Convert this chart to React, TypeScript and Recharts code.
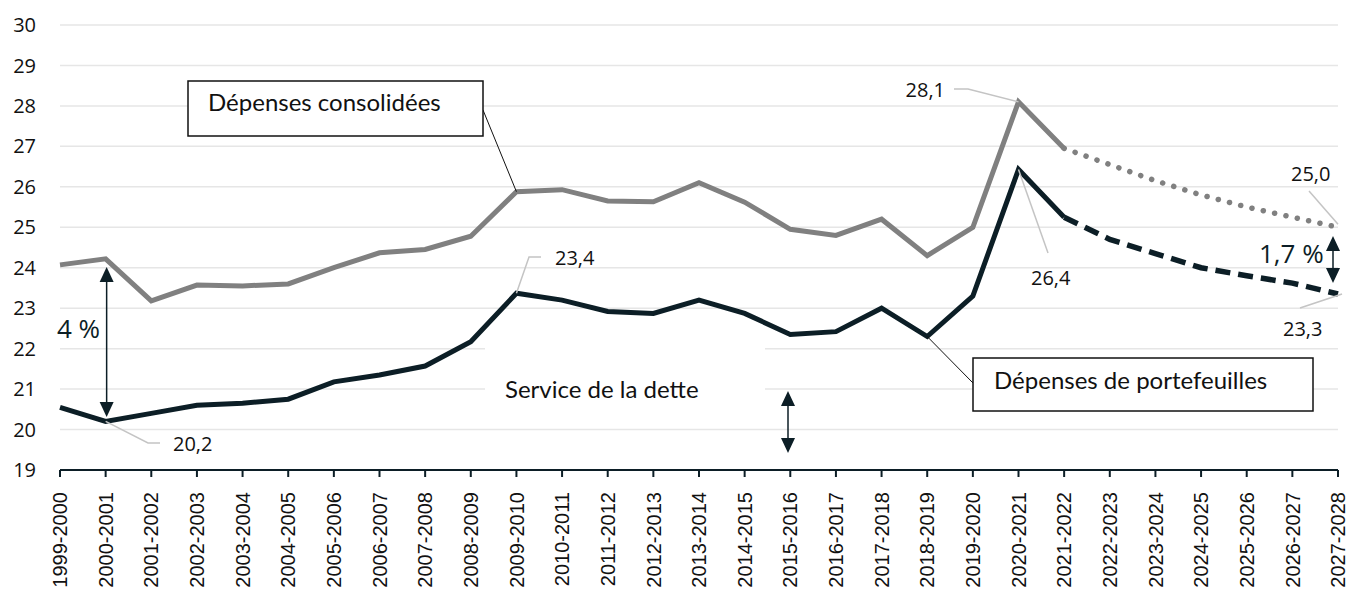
import React from 'react';
import { LineChart, Line, XAxis, YAxis } from 'recharts';

const categories = [
  '1999-2000', '2000-2001', '2001-2002', '2002-2003', '2003-2004', '2004-2005',
  '2005-2006', '2006-2007', '2007-2008', '2008-2009', '2009-2010', '2010-2011',
  '2011-2012', '2012-2013', '2013-2014', '2014-2015', '2015-2016', '2016-2017',
  '2017-2018', '2018-2019', '2019-2020', '2020-2021', '2021-2022', '2022-2023',
  '2023-2024', '2024-2025', '2025-2026', '2026-2027', '2027-2028',
];

const consolidatedActual: (number | null)[] = [
  24.07, 24.22, 23.18, 23.57, 23.55, 23.6, 24.0, 24.37, 24.45, 24.78, 25.88, 25.93,
  25.65, 25.63, 26.1, 25.62, 24.95, 24.8, 25.2, 24.3, 25.0, 28.1, 26.95,
  null, null, null, null, null, null,
];
const consolidatedProjected: (number | null)[] = [
  null, null, null, null, null, null, null, null, null, null, null, null,
  null, null, null, null, null, null, null, null, null, null,
  26.95, 26.55, 26.15, 25.8, 25.5, 25.25, 25.0,
];
const portfolioActual: (number | null)[] = [
  20.55, 20.2, 20.4, 20.6, 20.65, 20.75, 21.18, 21.35, 21.57, 22.17, 23.37, 23.2,
  22.92, 22.87, 23.2, 22.87, 22.35, 22.42, 23.0, 22.3, 23.3, 26.43, 25.25,
  null, null, null, null, null, null,
];
const portfolioProjected: (number | null)[] = [
  null, null, null, null, null, null, null, null, null, null, null, null,
  null, null, null, null, null, null, null, null, null, null,
  25.25, 24.7, 24.35, 24.0, 23.8, 23.62, 23.35,
];
const yTicks = [19, 20, 21, 22, 23, 24, 25, 26, 27, 28, 29, 30];

const data = categories.map((c, i) => ({
  cat: c,
  consA: consolidatedActual[i],
  consP: consolidatedProjected[i],
  portA: portfolioActual[i],
  portP: portfolioProjected[i],
}));

const W = 1346;
const H = 589;
const PLOT_LEFT = 60;
const PLOT_RIGHT = 1338;
const PLOT_TOP = 25;
const PLOT_BOTTOM = 470;
const Y_MIN = 19;
const Y_MAX = 30;

const xPx = (i: number) => PLOT_LEFT + (i * (PLOT_RIGHT - PLOT_LEFT)) / (categories.length - 1);
const yPx = (v: number) => PLOT_TOP + ((Y_MAX - v) / (Y_MAX - Y_MIN)) * (PLOT_BOTTOM - PLOT_TOP);

const DARK = '#0c1e26';
const GREY = '#808080';
const LEADER = '#c4c4c4';
const GRID = '#e6e6e6';
const TEXT_FONT = 'Lato, "Open Sans", sans-serif';
const NUM_FONT = '"Open Sans", Lato, sans-serif';

// blank patch in the grid behind "Service de la dette"
const PATCH_X1 = 485;
const PATCH_X2 = 765;
const PATCH_Y1 = 322;
const PATCH_Y2 = 420;

const XTick = (props: any) => {
  const { x, y, payload } = props;
  return (
    <text
      transform={`translate(${x},${y + 13}) rotate(-90)`}
      textAnchor="end"
      dy="0.36em"
      fontSize={20}
      fontFamily='"Liberation Sans", Arial, sans-serif'
      fill="#111"
    >
      {payload.value}
    </text>
  );
};

const Arrow = ({ x, y1, y2 }: { x: number; y1: number; y2: number }) => {
  const hl = 15;
  const hw = 7;
  return (
    <g>
      <line x1={x} y1={y1 + hl - 2} x2={x} y2={y2 - hl + 2} stroke={DARK} strokeWidth={1.5} />
      <polygon points={`${x},${y1} ${x - hw},${y1 + hl} ${x + hw},${y1 + hl}`} fill={DARK} />
      <polygon points={`${x},${y2} ${x - hw},${y2 - hl} ${x + hw},${y2 - hl}`} fill={DARK} />
    </g>
  );
};

const Underlay = () => (
  <svg width={W} height={H} style={{ position: 'absolute', left: 0, top: 0 }}>
    <rect x={0} y={0} width={W} height={H} fill="#fff" />
    {yTicks.filter((t) => t > Y_MIN).map((t) => {
      const y = yPx(t);
      if (y > PATCH_Y1 && y < PATCH_Y2) {
        return (
          <g key={t}>
            <line x1={PLOT_LEFT} x2={PATCH_X1} y1={y} y2={y} stroke={GRID} strokeWidth={1.5} />
            <line x1={PATCH_X2} x2={PLOT_RIGHT} y1={y} y2={y} stroke={GRID} strokeWidth={1.5} />
          </g>
        );
      }
      return <line key={t} x1={PLOT_LEFT} x2={PLOT_RIGHT} y1={y} y2={y} stroke={GRID} strokeWidth={1.5} />;
    })}
  </svg>
);

const Overlay = () => {
  const p1 = { x: xPx(1), y: yPx(portfolioActual[1] as number) };
  const p10c = { x: xPx(10), y: yPx(consolidatedActual[10] as number) };
  const p10p = { x: xPx(10), y: yPx(portfolioActual[10] as number) };
  const p19p = { x: xPx(19), y: yPx(portfolioActual[19] as number) };
  const p21c = { x: xPx(21), y: yPx(consolidatedActual[21] as number) };
  const p21p = { x: xPx(21), y: yPx(portfolioActual[21] as number) };
  const p28c = { x: xPx(28), y: yPx(consolidatedProjected[28] as number) };
  const p28p = { x: xPx(28), y: yPx(portfolioProjected[28] as number) };
  return (
    <svg
      width={W}
      height={H}
      style={{ position: 'absolute', left: 0, top: 0, pointerEvents: 'none' }}
    >
      <text x={505} y={398} fontSize={24} fontFamily={TEXT_FONT} fill="#111">
        Service de la dette
      </text>

      {/* Box Dépenses consolidées */}
      <line x1={483} y1={110} x2={p10c.x} y2={p10c.y} stroke="#111" strokeWidth={1} />
      <rect x={188} y={81} width={295} height={55} fill="#fff" stroke="#111" strokeWidth={1.5} />
      <text x={208} y={111} fontSize={24} fontFamily={TEXT_FONT} fill="#111">
        Dépenses consolidées
      </text>

      {/* Box Dépenses de portefeuilles */}
      <line x1={973} y1={383} x2={p19p.x} y2={p19p.y} stroke="#111" strokeWidth={1} />
      <rect x={973} y={358} width={340} height={53} fill="#fff" stroke="#111" strokeWidth={1.5} />
      <text x={994} y={389} fontSize={24} fontFamily={TEXT_FONT} fill="#111">
        Dépenses de portefeuilles
      </text>

      {/* value labels with leaders */}
      <polyline points={`${p1.x},${p1.y} 148,443 160,443`} fill="none" stroke={LEADER} strokeWidth={1.5} />
      <text x={173} y={451} fontSize={20} fontFamily={NUM_FONT} fill="#111">20,2</text>

      <polyline points={`${p10p.x},${p10p.y} 529,257 541,257`} fill="none" stroke={LEADER} strokeWidth={1.5} />
      <text x={555} y={265} fontSize={20} fontFamily={NUM_FONT} fill="#111">23,4</text>

      <polyline points={`${p21c.x},${p21c.y} 968,89 954,89`} fill="none" stroke={LEADER} strokeWidth={1.5} />
      <text x={945} y={97} textAnchor="end" fontSize={20} fontFamily={NUM_FONT} fill="#111">28,1</text>

      <polyline points={`${p21p.x},${p21p.y} 1048,253`} fill="none" stroke={LEADER} strokeWidth={1.5} />
      <text x={1031} y={285} fontSize={20} fontFamily={NUM_FONT} fill="#111">26,4</text>

      <polyline points={`1309,191 ${p28c.x},${p28c.y - 3}`} fill="none" stroke={LEADER} strokeWidth={1.5} />
      <text x={1291} y={181} fontSize={20} fontFamily={NUM_FONT} fill="#111">25,0</text>

      <polyline points={`1300,308 ${p28p.x + 4},${p28p.y}`} fill="none" stroke={LEADER} strokeWidth={1.5} />
      <text x={1283} y={336} fontSize={20} fontFamily={NUM_FONT} fill="#111">23,3</text>

      {/* gap arrows */}
      <Arrow x={p1.x + 1} y1={267} y2={417} />
      <text x={57} y={338} fontSize={26} fontFamily={NUM_FONT} fill={DARK}>4 %</text>

      <Arrow x={788} y1={391} y2={453} />

      <Arrow x={1333} y1={236} y2={283} />
      <text x={1259} y={263} fontSize={26} fontFamily={NUM_FONT} fill={DARK}>1,7 %</text>
    </svg>
  );
};

export default function App() {
  return (
    <div style={{ position: 'absolute', left: 0, top: 0, width: W, height: H, background: '#fff' }}>
      <Underlay />
      <div style={{ position: 'absolute', left: 0, top: 0 }}>
        <LineChart
          width={W}
          height={H}
          data={data}
          margin={{ top: PLOT_TOP, right: W - PLOT_RIGHT, left: 0, bottom: 9 }}
        >
          <XAxis
            dataKey="cat"
            interval={0}
            height={H - PLOT_BOTTOM - 9}
            tick={<XTick />}
            tickSize={7}
            axisLine={{ stroke: DARK, strokeWidth: 2 }}
            tickLine={{ stroke: DARK, strokeWidth: 2 }}
          />
          <YAxis
            width={PLOT_LEFT}
            domain={[Y_MIN, Y_MAX]}
            ticks={yTicks}
            interval={0}
            axisLine={false}
            tickLine={false}
            tickSize={0}
            tickMargin={24}
            tick={{ fontSize: 20, fill: '#111', fontFamily: NUM_FONT }}
          />
          <Line dataKey="consA" stroke={GREY} strokeWidth={5} dot={false} activeDot={false} isAnimationActive={false} connectNulls={false} />
          <Line dataKey="consP" stroke={GREY} strokeWidth={5.5} strokeDasharray="0.1 11.5" strokeLinecap="round" dot={false} activeDot={false} isAnimationActive={false} connectNulls={false} />
          <Line dataKey="portA" stroke={DARK} strokeWidth={5} dot={false} activeDot={false} isAnimationActive={false} connectNulls={false} />
          <Line dataKey="portP" stroke={DARK} strokeWidth={5.5} strokeDasharray="15 8" dot={false} activeDot={false} isAnimationActive={false} connectNulls={false} />
        </LineChart>
      </div>
      <Overlay />
    </div>
  );
}
